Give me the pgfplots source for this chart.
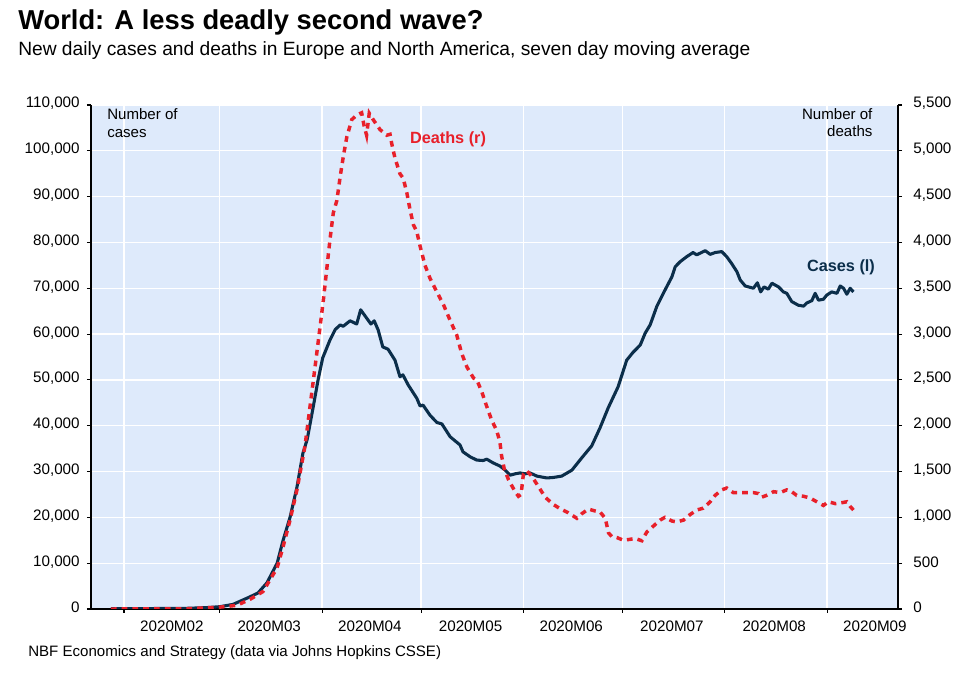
\documentclass[border=0pt]{standalone}
\usepackage{fontspec}
\setmainfont{Liberation Sans}
\usepackage{pgfplots}
\pgfplotsset{compat=1.18}
\usepackage{pgfplotstable}
\definecolor{bgblue}{HTML}{DEEAFB}
\definecolor{navy}{HTML}{0B2E4A}
\definecolor{dred}{HTML}{E8202A}

\pgfplotstableread{
d v
27 100
40 100
50 150
56 300
60 500
64 1000
69 2600
71.6 3500
74.3 5700
77.4 10000
79.2 15000
81.3 20000
83.4 26600
85.2 34000
86.5 37000
88.3 44000
89.8 50000
91.2 54800
93.4 58700
95 61000
96.5 62000
97.4 61700
99.5 62900
101.5 62200
102.7 65300
104.5 63500
105.8 62200
106.8 62900
108.0 60900
109.4 57200
111.0 56700
113.1 54300
114.6 50700
115.5 51100
117.1 48900
119.7 46000
120.7 44300
121.6 44500
123.7 42300
125.8 40700
127.3 40400
129.8 37600
131.3 36700
132.8 35800
133.7 34300
135.9 33200
137.9 32500
139.8 32400
140.9 32700
142.8 31900
144.9 31200
146.5 30300
148.0 29200
149.5 29500
151.0 29700
152.5 29500
154.0 29700
156.1 29000
159.1 28600
161.0 28700
163.6 29000
166.7 30300
169.7 33000
172.7 35600
175.2 39500
177.7 43900
180.7 48500
183.3 54300
185.2 56000
187.4 57600
188.9 60200
190.4 62000
192.4 66000
194.9 69600
197.0 72500
198.0 74700
199.5 75800
201.5 76900
203.4 77800
204.5 77300
207.1 78200
208.6 77400
210.1 77800
212.1 78000
213.6 76900
215.1 75400
216.7 73600
217.7 71800
219.2 70500
221.7 70000
222.9 71200
223.9 69200
224.9 70300
226.2 69800
227.3 71100
229.3 70300
230.8 69200
231.8 68900
233.3 67100
235.3 66300
236.9 66100
237.9 66800
239.4 67300
240.4 68900
241.4 67400
242.9 67600
243.9 68500
245.4 69200
247.0 68900
248.0 70500
249.0 70000
250.0 68700
251.0 70000
252.0 69200
}\casestab

\pgfplotstableread{
d v
27 0
50 2
60 20
65.2 40
69.2 106
73.1 190
77.4 450
79.2 680
81.3 970
83.4 1300
85.8 1770
87.5 2250
89.4 2790
90.4 3080
91.4 3370
92.4 3700
93.4 4030
94.4 4320
95.5 4460
96.5 4720
97.5 4950
98.5 5150
100.0 5340
101.5 5390
103.0 5415
103.7 5280
104.5 5170
105.3 5410
106.5 5340
108.6 5230
110.6 5170
111.6 5180
112.1 5080
113.1 4920
114.6 4750
115.6 4700
116.7 4540
117.7 4350
118.7 4190
119.7 4120
120.7 3960
122.2 3750
123.7 3610
125.8 3460
127.8 3320
129.8 3150
131.8 2990
133.3 2790
134.9 2640
136.9 2520
137.9 2500
139.4 2370
140.9 2210
142.4 2060
143.9 1950
144.9 1820
145.4 1670
146.2 1530
147.5 1410
149.5 1280
150.5 1230
151.3 1250
152.0 1470
153.0 1510
154.5 1450
156.5 1340
158.6 1220
161.1 1140
163.1 1095
165.6 1050
168.2 990
169.7 1040
171.7 1090
173.7 1070
175.2 1060
176.8 990
177.8 830
178.8 790
180.3 780
182.3 750
184.3 760
185.8 770
187.9 745
189.4 840
191.4 905
193.4 970
194.9 1000
197.0 960
198.5 950
200.5 970
202.5 1030
204.5 1080
206.5 1100
208.6 1170
210.1 1240
212.1 1300
213.6 1320
215.6 1270
217.7 1270
219.7 1270
221.7 1270
223.2 1260
224.2 1220
225.7 1240
227.8 1280
229.8 1270
231.8 1300
233.3 1280
234.8 1240
236.9 1230
238.9 1210
240.9 1170
242.9 1130
244.4 1170
246.5 1150
248.5 1160
250.0 1170
251.0 1120
252.0 1080
}\deathstab

\pgfplotsset{
  common/.style={
    at={(68.25pt,51pt)}, anchor=south west,
    scale only axis, width=605.25pt, height=378pt,
    xmin=21, xmax=265.5,
    tick align=outside, major tick length=3pt,
    tick style={black, line width=0.8pt},
    axis line style={black, line width=1.1pt},
    ticklabel style={font=\fontsize{11.4}{13}\selectfont},
    scaled y ticks=false,
    yticklabel={\pgfmathprintnumber[fixed, precision=0, 1000 sep={,}, assume math mode=true]{\tick}},
  }
}

\begin{document}
\begin{tikzpicture}
\path[use as bounding box, fill=white] (0,0) rectangle (720.75pt,507.75pt);
\begin{axis}[common,
  ymin=0, ymax=110000,
  axis x line*=bottom, axis y line*=left,
  axis background/.style={fill=bgblue},
  xtick={31,60,91,121,152,182,213,244}, xticklabels={},
  extra x ticks={45.5,75,105.5,136,166.5,197,228,258.5},
  extra x tick labels={2020M02,2020M03,2020M04,2020M05,2020M06,2020M07,2020M08,2020M09},
  extra x tick style={major tick length=0pt, grid=none, xticklabel style={yshift=-5.5pt}},
  ytick={0,10000,...,110000},
  grid=major, major grid style={white, line width=1pt},
  yticklabel style={xshift=-2pt, yshift=1pt},
]
\addplot[navy, line width=2.3pt, line join=round] table[x=d,y=v] {\casestab};
\end{axis}
\begin{axis}[common,
  ymin=0, ymax=5500,
  axis x line=none, axis y line*=right,
  ytick={0,500,...,5500},
  yticklabel style={xshift=5pt, yshift=1pt},
]
\addplot[dred, line width=2.6pt, dash pattern=on 4.3pt off 3.8pt] table[x=d,y=v] {\deathstab};
\end{axis}
\begin{scope}[x=0.75pt, y=0.75pt]
\node[anchor=base west, inner sep=0pt, font=\fontsize{20.5}{24}\selectfont\bfseries] at (18,647.7) {World: A less deadly second wave?};
\node[anchor=base west, inner sep=0pt, font=\fontsize{14.4}{16}\selectfont] at (18,621) {New daily cases and deaths in Europe and North America, seven day moving average};
\node[anchor=base west, inner sep=0pt, font=\fontsize{11.3}{13}\selectfont] at (28,20.3) {NBF Economics and Strategy (data via Johns Hopkins CSSE)};
\node[anchor=base west, inner sep=0pt, font=\fontsize{11.3}{13}\selectfont] at (107,557.5) {Number of};
\node[anchor=base west, inner sep=0pt, font=\fontsize{11.3}{13}\selectfont] at (107,539.8) {cases};
\node[anchor=base east, inner sep=0pt, font=\fontsize{11.3}{13}\selectfont] at (872.7,557.3) {Number of};
\node[anchor=base east, inner sep=0pt, font=\fontsize{11.3}{13}\selectfont] at (872.7,540.3) {deaths};
\node[inner sep=0pt, font=\fontsize{12.2}{14}\selectfont\bfseries, text=dred] at (448,538) {Deaths (r)};
\node[inner sep=0pt, font=\fontsize{12.2}{14}\selectfont\bfseries, text=navy] at (841,410) {Cases (l)};
\end{scope}
\end{tikzpicture}
\end{document}
